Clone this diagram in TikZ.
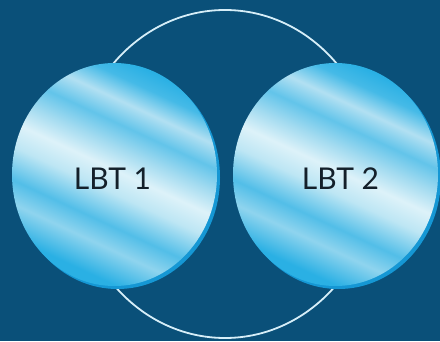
\documentclass[tikz,border=0pt]{standalone}
\usepackage{fontspec}
\setmainfont{Lato}
\definecolor{bgblue}{HTML}{0A5079}
\definecolor{rimblue}{HTML}{1597D4}
\definecolor{ringwhite}{HTML}{D6EEF8}
\definecolor{txt}{HTML}{14202A}
\definecolor{sA}{HTML}{2AB0E4}
\definecolor{sB}{HTML}{8FD4EE}
\definecolor{sC}{HTML}{52BEE8}
\definecolor{sD}{HTML}{BDE6F4}
\definecolor{sE}{HTML}{DDF2F9}
\definecolor{sF}{HTML}{A3DBF0}
\definecolor{sG}{HTML}{62C4EA}
\definecolor{sH}{HTML}{B2E0F2}
\definecolor{sI}{HTML}{45BAE7}
\pgfdeclareverticalshading{lbtstreak}{100bp}{%
  color(0bp)=(sA); color(27bp)=(sA); color(34bp)=(sB);
  color(39bp)=(sC); color(46bp)=(sD); color(51bp)=(sE);
  color(56bp)=(sF); color(61bp)=(sG); color(66bp)=(sH);
  color(71bp)=(sI); color(75bp)=(sA); color(100bp)=(sA)}
\tikzset{
  lens/.style={ellipse, minimum width=205pt, minimum height=223pt, inner sep=0pt,
    shading=lbtstreak, shading angle=-25},
  rim/.style={ellipse, minimum width=205pt, minimum height=223pt, inner sep=0pt, fill=rimblue},
  lbl/.style={font=\fontsize{30}{30}\selectfont, text=txt, inner sep=0pt},
  ring/.style={draw=ringwhite, line width=1.8pt}
}
\usetikzlibrary{shapes.geometric}
\begin{document}
\begin{tikzpicture}[x=1pt,y=1pt]
\fill[bgblue] (0,0) rectangle (440,341);
\useasboundingbox (0,0) rectangle (440,341);
\coordinate (ringc) at (225,167);
\draw[ring] (ringc) ellipse [x radius=151, y radius=164];
\node[rim] (rim1) at (117.5,163.5) {};
\node[rim] (rim2) at (338.5,163.5) {};
\node[lens] (lbt1) at (114.5,166.5) {};
\node[lens] (lbt2) at (335.5,166.5) {};
\node[lbl] (t1) at ([xshift=-2pt,yshift=-4pt]lbt1.center) {LBT 1};
\node[lbl] (t2) at ([xshift=5pt,yshift=-4pt]lbt2.center) {LBT 2};
\end{tikzpicture}
\end{document}
